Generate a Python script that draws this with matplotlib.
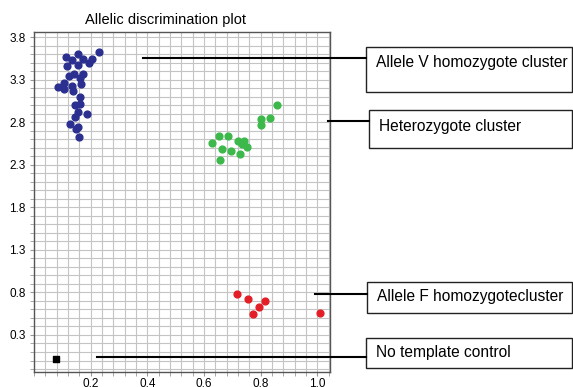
import matplotlib.pyplot as plt
import numpy as np
from matplotlib.lines import Line2D
from matplotlib.patches import Rectangle

plt.rcParams['font.family'] = ['Liberation Sans', 'DejaVu Sans']

# allele V homozygotes (blue)
v_x = [0.230, 0.114, 0.134, 0.157, 0.174, 0.205, 0.193, 0.116, 0.157, 0.172,
       0.140, 0.122, 0.163, 0.106, 0.167, 0.084, 0.107, 0.134, 0.138, 0.164,
       0.144, 0.163, 0.155, 0.186, 0.144, 0.128, 0.155, 0.149, 0.160]
v_y = [3.627, 3.56, 3.53, 3.60, 3.545, 3.545, 3.50, 3.46, 3.47, 3.37,
       3.36, 3.345, 3.318, 3.26, 3.25, 3.215, 3.19, 3.23, 3.17, 3.09,
       3.00, 3.01, 2.92, 2.90, 2.855, 2.777, 2.74, 2.72, 2.63]

# heterozygotes (green)
h_x = [0.857, 0.800, 0.832, 0.800, 0.652, 0.684, 0.630, 0.721, 0.743, 0.734,
       0.752, 0.664, 0.694, 0.727, 0.658]
h_y = [3.00, 2.835, 2.843, 2.77, 2.635, 2.635, 2.553, 2.58, 2.58, 2.54,
       2.51, 2.49, 2.46, 2.43, 2.356]

# allele F homozygotes (red)
f_x = [0.716, 0.756, 0.815, 0.794, 0.774, 1.008]
f_y = [0.785, 0.72, 0.70, 0.627, 0.545, 0.557]

# no template control
ntc_x = [0.077]
ntc_y = [0.012]

labels = ['Allele V homozygote cluster', 'Heterozygote cluster',
          'Allele F homozygotecluster', 'No template control']
yticks = [0.3, 0.8, 1.3, 1.8, 2.3, 2.8, 3.3, 3.8]
xticks = [0.2, 0.4, 0.6, 0.8, 1.0]

W, H = 573, 387
fig = plt.figure(figsize=(W / 100, H / 100), dpi=100)


def fx(px):
    return px / W


def fy(py):
    return 1 - py / H


ax = fig.add_axes([fx(34), fy(372), fx(330) - fx(34), fy(32) - fy(372)])
ax.set_xlim(0.01, 1.045)
ax.set_ylim(-0.135, 3.859)

ax.set_xticks(np.arange(0, 1.05, 0.04), minor=True)
ax.set_yticks(np.arange(-0.1, 3.86, 0.1), minor=True)
ax.set_xticks(xticks)
ax.set_yticks(yticks)
ax.set_xticklabels([f'{v:.1f}' for v in xticks])
ax.set_yticklabels([f'{v:.1f}' for v in yticks])
ax.grid(True, which='both', color='#c4c4c4', lw=0.8)
ax.set_axisbelow(True)
ax.tick_params(which='both', length=3, color='#999999', labelsize=8.5, pad=3)
ax.tick_params(axis='x', which='both', pad=1.5)
for s in ax.spines.values():
    s.set_color('#555555')
    s.set_linewidth(1.0)

ax.scatter(v_x, v_y, s=24, color='#2b2f8f', zorder=3)
ax.scatter(h_x, h_y, s=24, color='#3cb94a', zorder=3)
ax.scatter(f_x, f_y, s=24, color='#e41e26', zorder=3)
ax.scatter(ntc_x, ntc_y, s=22, marker='s', color='black', zorder=3)

fig.text(fx(165), fy(20), 'Allelic discrimination plot', ha='center', va='center', fontsize=10.5)

# callout lines and boxes (pixel positions)
line_px = [(143, 366, 58), (328, 369, 121), (315, 367, 294), (97, 366, 357)]
box_px = [(366, 47, 572, 92, 62), (369, 110, 572, 148, 127),
          (367, 282, 572, 313, 297), (366, 338, 572, 368, 352)]
for (x0, x1, y), (bx0, by0, bx1, by1, ty), lab in zip(line_px, box_px, labels):
    fig.add_artist(Line2D([fx(x0), fx(x1)], [fy(y), fy(y)], color='black', lw=1.5,
                          transform=fig.transFigure, zorder=5))
    fig.add_artist(Rectangle((fx(bx0), fy(by1)), fx(bx1) - fx(bx0), fy(by0) - fy(by1),
                             fill=False, edgecolor='#222222', lw=1.0,
                             transform=fig.transFigure))
    fig.text(fx(bx0 + 10), fy(ty), lab, ha='left', va='center', fontsize=11.2)

fig.savefig('out.png', dpi=100)
